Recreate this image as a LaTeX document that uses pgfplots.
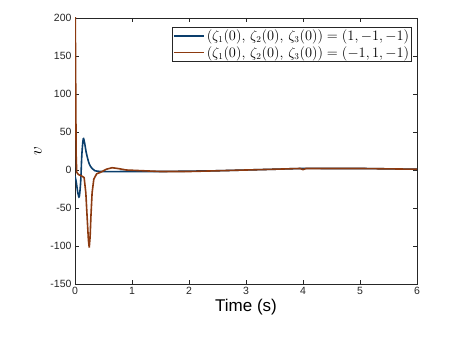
\documentclass[border=0pt]{standalone}
\usepackage{pgfplots}
\pgfplotsset{compat=1.18}
\usepackage{fontspec}
\setmainfont{Liberation Sans}
\definecolor{mblue}{RGB}{10,62,108}
\definecolor{mbrown}{RGB}{140,58,16}
\definecolor{axgray}{RGB}{38,38,38}
\begin{document}
\begin{tikzpicture}
\useasboundingbox (0pt,0pt) rectangle (463pt,340pt);
\begin{axis}[
  at={(75pt,56pt)}, anchor=south west,
  scale only axis, width=342pt, height=266pt,
  xmin=0, xmax=6, ymin=-150, ymax=200,
  xtick={0,1,...,6}, ytick={-150,-100,...,200},
  tick align=inside, major tick length=4pt,
  axis line style={axgray, line width=0.5pt},
  every tick/.style={axgray},
  tick label style={font=\fontsize{10.5}{12}\selectfont, text=axgray},
  /pgf/number format/assume math mode=true,
  xlabel={Time (s)},
  xlabel style={font=\fontsize{17}{19}\selectfont, yshift=3pt},
  ylabel={$v$},
  ylabel style={font=\fontsize{16}{18}\selectfont, yshift=2pt},
  legend style={at={(0.985,0.965)}, anchor=north east, draw=axgray,
    font=\fontsize{13.5}{15}\selectfont, inner sep=0.5pt,
    row sep=0pt, cells={anchor=west}},
  legend image code/.code={\draw[#1] (0pt,0pt) -- (30pt,0pt);},
  legend cell align=left,
  clip=true,
]
\addplot[mblue, line width=1.6pt, smooth] coordinates {
  (0,-8)(0.02,-15)(0.05,-30)(0.075,-35)(0.1,-15)(0.12,20)(0.145,41)
  (0.17,35)(0.2,22)(0.25,8)(0.3,2)(0.35,-1)(0.5,-2)(1,-2)(1.5,-2)
  (2,-1.5)(2.5,-1)(3,0)(3.5,1)(4,2)(4.5,2)(5,2)(5.5,1.5)(6,1)
};
\addlegendentry{$(\zeta_1(0),\,\zeta_2(0),\,\zeta_3(0))=(1,-1,-1)$}
\addplot[mbrown, line width=1.6pt] coordinates {
  (0,135)(0.004,215)(0.02,20)(0.03,-3)(0.06,-6)(0.12,-8)(0.16,-10)
  (0.19,-30)(0.215,-65)(0.235,-92)(0.25,-102)(0.265,-88)(0.28,-60)
  (0.3,-30)(0.33,-12)(0.38,-5)(0.45,-3)(0.55,1)(0.65,3)(0.75,2)(0.9,0)
  (1.2,-1)(1.5,-2)(2,-2)(2.5,-1)(3,0)(3.5,1)(3.95,2)(4,0.5)(4.05,2)
  (4.5,2)(5,2)(5.5,1.5)(6,1)
};
\addlegendentry{$(\zeta_1(0),\,\zeta_2(0),\,\zeta_3(0))=(-1,1,-1)$}
\end{axis}
\end{tikzpicture}
\end{document}
